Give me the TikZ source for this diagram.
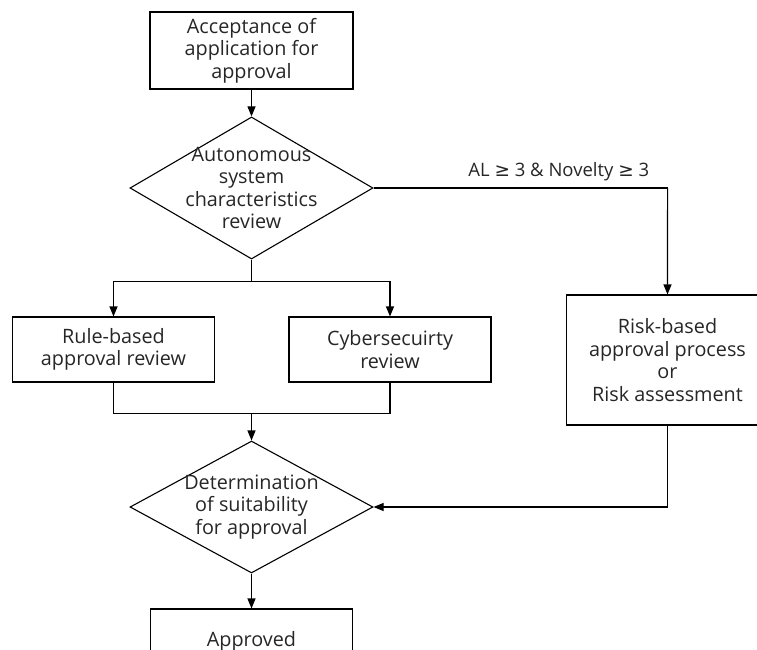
\documentclass[tikz,border=0pt]{standalone}
\usepackage{fontspec}
\setmainfont{Open Sans}
\newfontfamily\symfont{DejaVu Sans}
\usepackage{tikz}
\usetikzlibrary{shapes,arrows.meta}
\usetikzlibrary{positioning}
\tikzstyle{block} =
  [rectangle, draw, line width=1.1pt, align=center, text=black!85,
   minimum width=202pt, minimum height=65pt, inner sep=0pt,
   font=\fontsize{19.8}{22.5}\selectfont]
\tikzstyle{decision} =
  [diamond, draw, line width=1.1pt, align=center, text=black!85,
   inner sep=-18pt, minimum width=243pt, minimum height=140pt,
   font=\fontsize{19.8}{22.5}\selectfont]
\tikzstyle{arrow}=[draw,-{Triangle[length=10pt,width=8pt]},line width=1.1pt]
\newcommand{\gte}{{\symfont\char"2265}}

\begin{document}
\begin{tikzpicture}[x=1pt, y=1pt]
  \useasboundingbox (0,0) rectangle (757,-650);
  \clip (0,0) rectangle (757,-650);

  \node [block, minimum width=203pt, minimum height=77pt] (accept) at (251.5,-50.5)
    {Acceptance of\\application for\\approval};
  \node [decision, below of=accept, node distance=137.5pt] (review)
    {Autonomous\\system\\characteristics\\review};
  \node [block, below of=review, node distance=161.5pt, xshift=-138pt] (rule)
    {Rule-based\\approval review};
  \node [block, below of=review, node distance=161.5pt, xshift=138.5pt] (cyber)
    {Cybersecuirty\\review};
  \node [decision, below of=review, node distance=319pt, minimum height=132pt] (suit)
    {Determination\\of suitability\\for approval};
  \node [block, below of=suit, node distance=134.5pt] (approved) {Approved};
  \node [block, right of=review, node distance=416pt, yshift=-172pt,
         minimum height=130pt] (risk)
    {Risk-based\\approval process\\or\\Risk assessment};

  \draw [arrow] (accept) to (review);
  \draw [line width=1.1pt] (review.south) -- ++(0,-22) coordinate (split);
  \draw [arrow] (split) -| (rule.north);
  \draw [arrow] (split) -| (cyber.north);
  \draw [line width=1.1pt] (rule.south) |- ++(138,-31) coordinate (merge) -| (cyber.south);
  \draw [arrow] (merge) to (suit.north);
  \draw [line width=1.1pt] (review.east) -- ++(294,0) coordinate (corner)
    node [pos=0.63, above=3pt, font=\fontsize{18.5}{22}\selectfont, text=black!85]
    {AL \gte\ 3 \& Novelty \gte\ 3};
  \draw [arrow] (corner) to (risk.north);
  \draw [arrow] (risk.south) |- (suit.east);
  \draw [arrow] (suit) to (approved);
\end{tikzpicture}
\end{document}
